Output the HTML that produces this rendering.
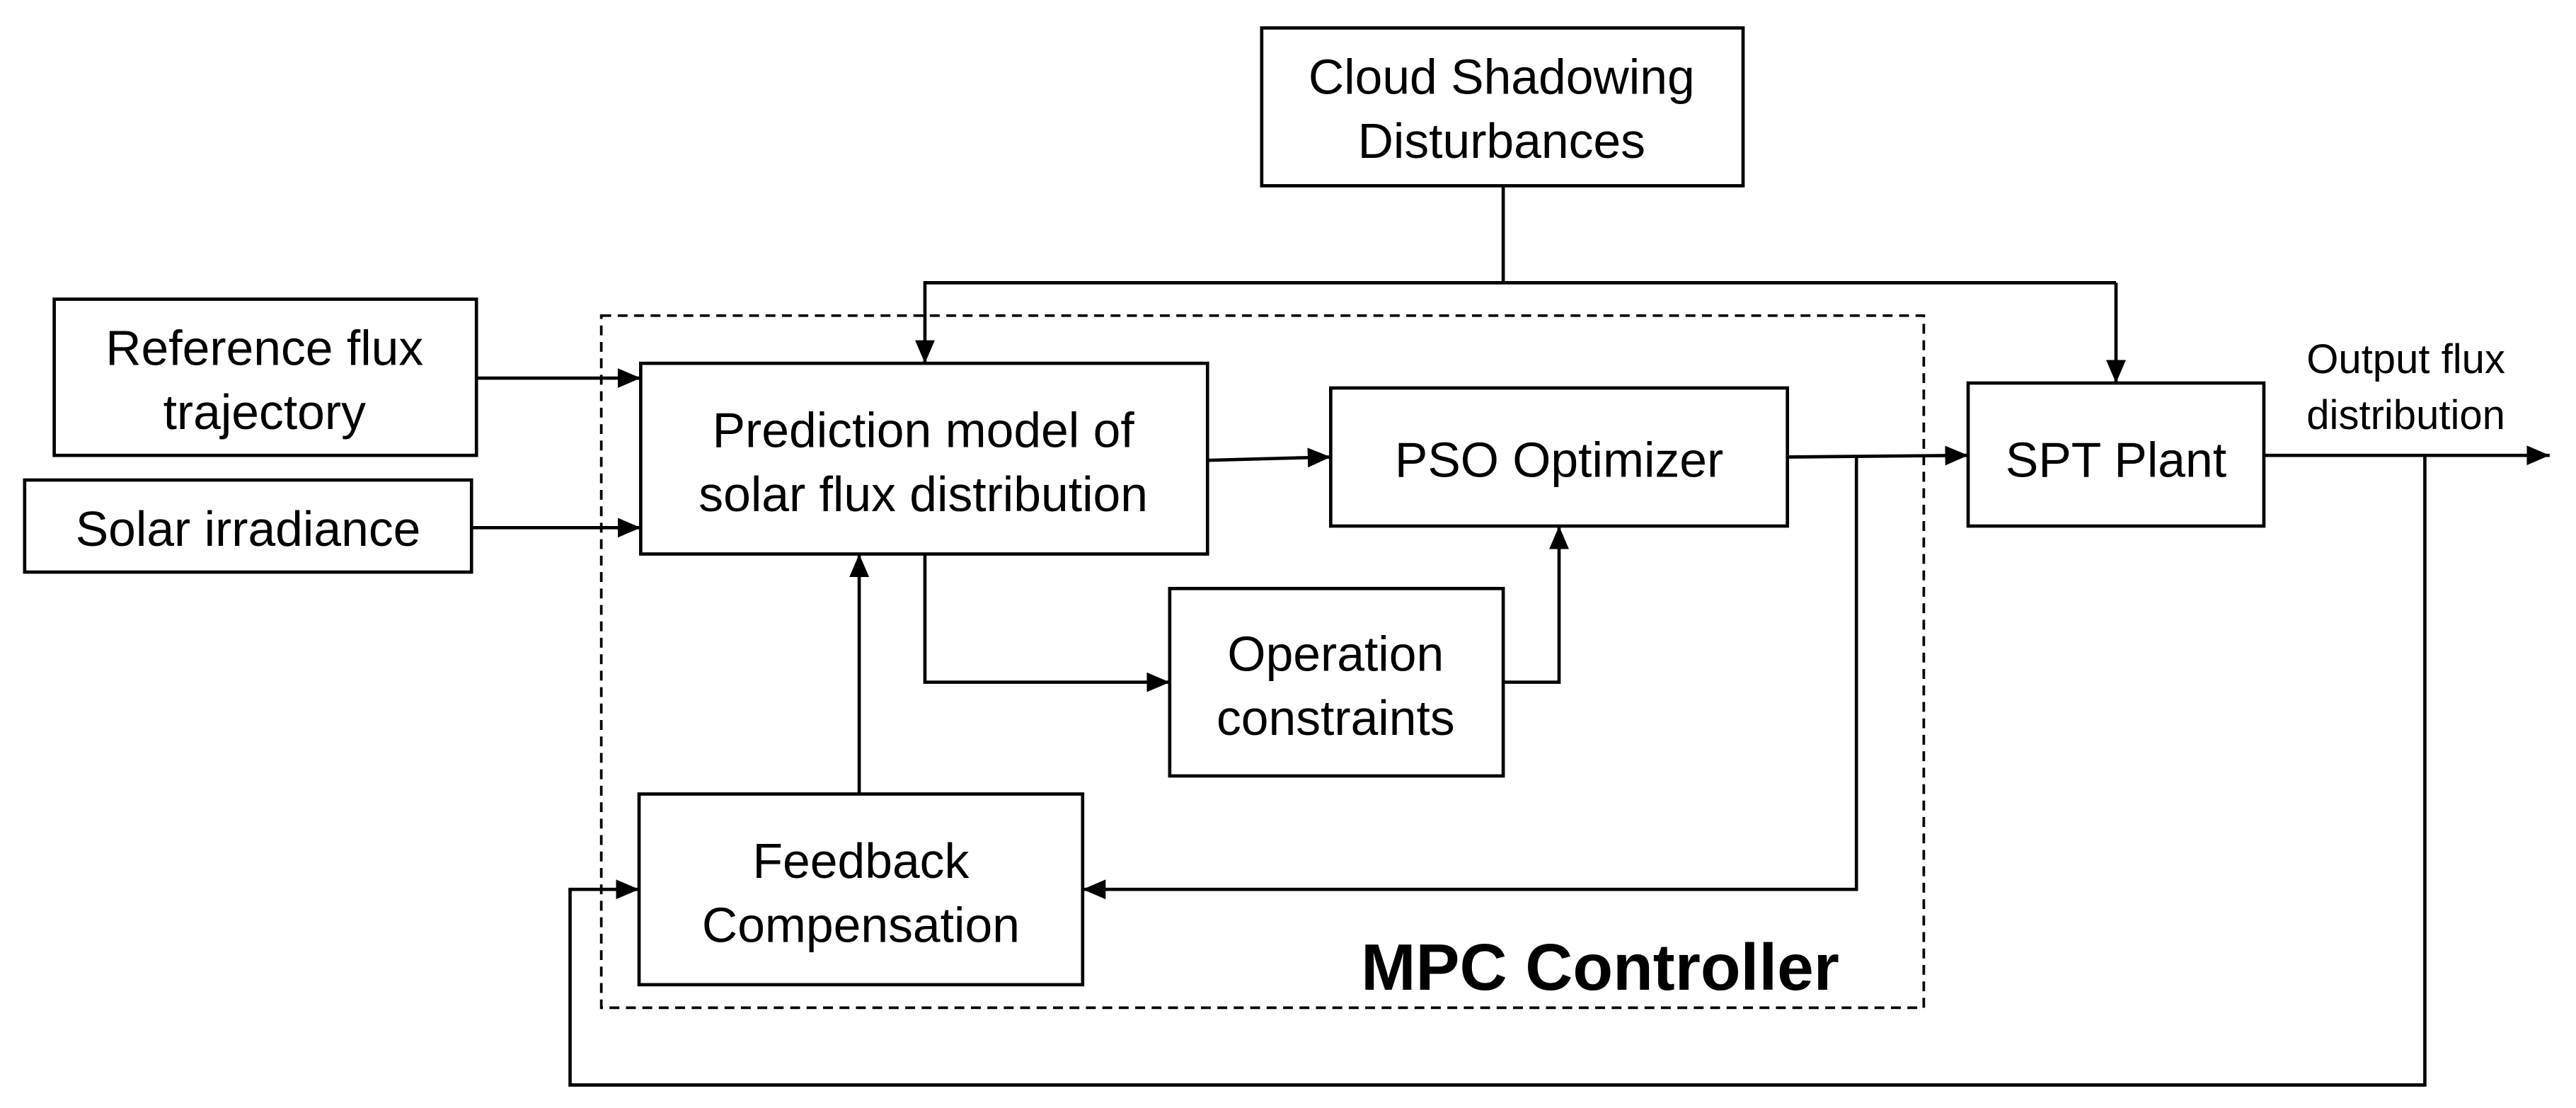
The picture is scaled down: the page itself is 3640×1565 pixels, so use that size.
<!DOCTYPE html>
<html><head><meta charset="utf-8"><style>html,body{margin:0;padding:0;background:#fff}svg{display:block}</style></head>
<body>
<svg width="3640" height="1565" viewBox="0 0 1568 674" preserveAspectRatio="none" xmlns="http://www.w3.org/2000/svg" font-family="Liberation Sans, sans-serif">
<defs><marker id="a" markerWidth="14" markerHeight="12" refX="14" refY="6" orient="auto" markerUnits="userSpaceOnUse"><path d="M0,0 L14,6 L0,12 Z" fill="#000"/></marker></defs>
<g fill="none" stroke="#000" stroke-width="2">
<rect x="768" y="17" width="293" height="96"/>
<rect x="33" y="182" width="257" height="95"/>
<rect x="15" y="292" width="272" height="56"/>
<rect x="366" y="192" width="805" height="421" stroke-dasharray="6,4" stroke-width="1.6"/>
<rect x="390" y="221" width="345" height="116"/>
<rect x="810" y="236" width="278" height="84"/>
<rect x="712" y="358" width="203" height="114"/>
<rect x="389" y="483" width="270" height="116"/>
<rect x="1198" y="233" width="180" height="87"/>
<path d="M915,113 V172"/>
<path d="M1288,172 H563 V221" marker-end="url(#a)"/>
<path d="M1288,172 V233" marker-end="url(#a)"/>
<path d="M290,230 H390" marker-end="url(#a)"/>
<path d="M287,321 H390" marker-end="url(#a)"/>
<path d="M735,280 L810,278" marker-end="url(#a)"/>
<path d="M1088,278 L1198,277" marker-end="url(#a)"/>
<path d="M1130,278 V541 H659" marker-end="url(#a)"/>
<path d="M563,337 V415 H712" marker-end="url(#a)"/>
<path d="M915,415 H949 V320" marker-end="url(#a)"/>
<path d="M523,483 V337" marker-end="url(#a)"/>
<path d="M1378,277 H1552" marker-end="url(#a)"/>
<path d="M1476,277 V660 H347 V541 H389" marker-end="url(#a)"/>
</g>
<g font-size="30" text-anchor="middle" fill="#000" textLength="">
<text x="914" y="57">Cloud Shadowing</text>
<text x="914" y="96">Disturbances</text>
<text x="161" y="222">Reference flux</text>
<text x="161" y="261">trajectory</text>
<text x="151" y="332">Solar irradiance</text>
<text x="562" y="272">Prediction model of</text>
<text x="562" y="311">solar flux distribution</text>
<text x="949" y="290">PSO Optimizer</text>
<text x="813" y="408">Operation</text>
<text x="813" y="447">constraints</text>
<text x="524" y="534">Feedback</text>
<text x="524" y="573">Compensation</text>
<text x="1288" y="290">SPT Plant</text>
</g>
<g font-size="25" fill="#000">
<text x="1404" y="227">Output flux</text>
<text x="1404" y="261">distribution</text>
</g>
<text x="974" y="602" font-size="40" font-weight="bold" text-anchor="middle" fill="#000">MPC Controller</text>
</svg>
</body></html>
